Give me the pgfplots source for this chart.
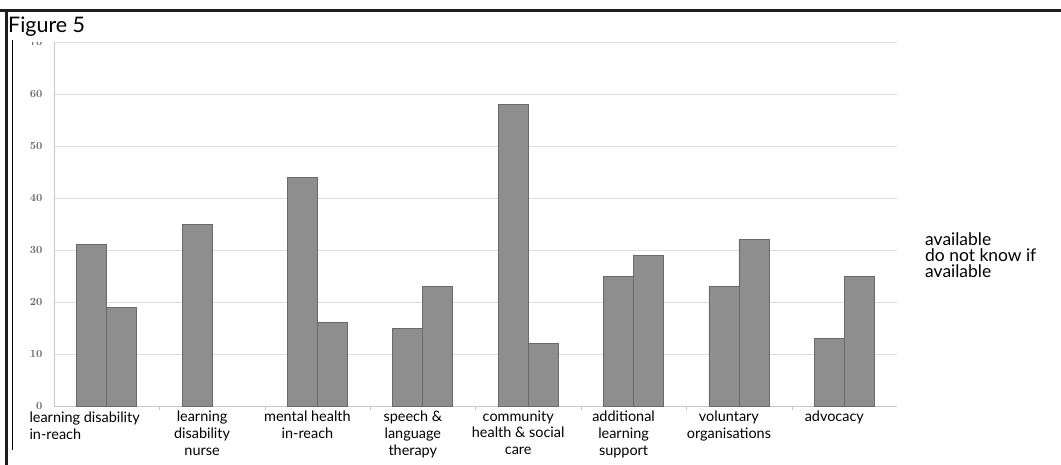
\documentclass[border=0pt]{standalone}
\usepackage{pgfplots}
\pgfplotsset{compat=1.18}
\usepackage{fontspec}
\setmainfont{Lato}
\definecolor{barfill}{RGB}{142,142,142}
\definecolor{baredge}{RGB}{105,105,105}
\definecolor{gridgray}{RGB}{222,222,222}
\definecolor{axisgray}{RGB}{200,200,200}
\definecolor{ticklab}{RGB}{105,105,105}
\definecolor{framedark}{RGB}{30,30,30}

% available / do not know if available, per service
\pgfplotstableread{
x avail
0 31
1 35
2 44
3 15
4 58
5 25
6 23
7 13
}\available
\pgfplotstableread{
x dontknow
0 19
2 16
3 23
4 12
5 29
6 32
7 25
}\dontknow

\begin{document}
\begin{tikzpicture}
\path[use as bounding box] (0,0) rectangle (1061bp,465bp);
\begin{axis}[
  at={(54bp,59bp)}, anchor=south west,
  scale only axis, width=843bp, height=364bp,
  xmin=-0.5, xmax=7.5, ymin=0, ymax=70,
  ytick={0,10,...,70},
  xtick={0,...,7},
  xticklabels={
    {\hspace*{-24bp}\begin{tabular}{@{}l@{}}learning disability\\in-reach\end{tabular}},
    {learning\\disability\\nurse},
    {mental health\\in-reach},
    {speech \&\\language\\therapy},
    {community\\health \& social\\care},
    {additional\\learning\\support},
    {voluntary\\organisations},
    {advocacy}},
  xticklabel style={align=center, xshift=-10bp, font=\fontsize{14.5}{17}\selectfont, anchor=north, yshift=-1bp},
  yticklabel style={font=\fontsize{11}{12}\selectfont\boldmath, text=ticklab, xshift=-8bp},
  major tick length=0pt,
  extra x ticks={0.5,1.5,...,6.5},
  extra x tick labels={},
  extra x tick style={major tick length=4bp, tick style={axisgray}, grid=none},
  ymajorgrids, grid style={gridgray, line width=0.8bp},
  axis line style={axisgray, line width=1bp},
  axis x line*=bottom, axis y line*=left,
  ybar=0pt, bar width=30bp,
  clip=false,
]
\addplot[draw=baredge, fill=barfill, line width=0.7bp, bar shift=-15bp] table[x=x, y=avail] {\available};
\addplot[draw=baredge, fill=barfill, line width=0.7bp, bar shift=15bp] table[x=x, y=dontknow] {\dontknow};
\end{axis}
% heading band
\fill[white] (12bp,423bp) rectangle (1061bp,454bp);
\node[anchor=west, inner sep=0pt, font=\fontsize{21.5}{24}\selectfont] at (8bp,438bp) {Figure 5};
% frame
\draw[framedark, line width=3bp] (0,454bp) -- (1061bp,454bp);
\draw[framedark, line width=3bp] (6bp,454bp) -- (6bp,0);
\draw[black, line width=0.8bp] (12.5bp,425bp) -- (12.5bp,15bp);
% series captions
\node[anchor=north west, align=left, inner sep=0pt, font=\fontsize{17.5}{16.5}\selectfont]
  at (925bp,233bp) {available\\do not know if\\available};
\end{tikzpicture}
\end{document}
